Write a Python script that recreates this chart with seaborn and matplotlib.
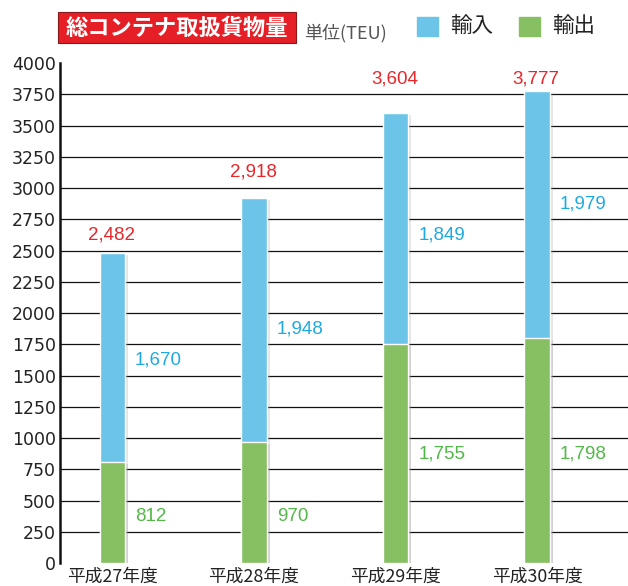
import matplotlib
matplotlib.use('Agg')
import matplotlib.pyplot as plt
import matplotlib.patheffects as pe
import seaborn as sns
import pandas as pd

# data
years = ['平成27年度', '平成28年度', '平成29年度', '平成30年度']
imports = [1670, 1948, 1849, 1979]
exports = [812, 970, 1755, 1798]
totals = [2482, 2918, 3604, 3777]
yticks = list(range(0, 4001, 250))

blue = '#6cc5e8'
green = '#86c062'
blue_txt = '#1ea9e1'
green_txt = '#52b848'
red_txt = '#e8262a'
num_font = 'Liberation Sans'
step = 250


def between_grid(v):
    # put a label halfway between two gridlines so no line runs through it
    return (v // step) * step + step / 2


sns.set_theme(style='white')
plt.rcParams['font.family'] = ['Noto Sans CJK JP', 'DejaVu Sans']

df = pd.DataFrame({'year': years, 'import': imports, 'export': exports, 'total': totals})

fig = plt.figure(figsize=(6.28, 5.86), dpi=100)
ax = fig.add_axes([0.0955, 0.039, 0.9045, 0.8535])

shadow = [pe.SimplePatchShadow(offset=(2.5, -1.5), shadow_rgbFace='#999999', alpha=0.25), pe.Normal()]

# stacked: full height in blue, export part in green drawn over it
sns.barplot(data=df, x='year', y='total', color=blue, width=0.177, saturation=1, ax=ax)
sns.barplot(data=df, x='year', y='export', color=green, width=0.177, saturation=1, ax=ax)
for p in ax.patches:
    p.set_path_effects(shadow)
    p.set_zorder(3)

for i in range(len(years)):
    y_tot = min(between_grid(totals[i] + step), 4000 - step / 2)
    ax.text(i - 0.173, y_tot, f'{totals[i]:,}', color=red_txt, fontsize=13.5,
            ha='left', va='center', family=num_font)
    ax.text(i + 0.16, between_grid(exports[i] + imports[i] / 2), f'{imports[i]:,}', color=blue_txt,
            fontsize=13.5, ha='left', va='center', family=num_font)
    ax.text(i + 0.16, between_grid(exports[i] / 2), f'{exports[i]:,}', color=green_txt,
            fontsize=13.5, ha='left', va='center', family=num_font)

ax.set_ylim(0, 4000)
ax.set_xlim(-0.371, 3.643)
ax.set_yticks(yticks)
ax.set_yticklabels([str(t) for t in yticks], fontsize=12.5, color='#222222', family='DejaVu Sans')
ax.set_xticks(range(len(years)))
ax.set_xticklabels(years, fontsize=12.8, color='#222222')
ax.tick_params(axis='x', length=0, pad=3)
ax.tick_params(axis='y', length=0, pad=3)
for t in yticks[1:-1]:
    ax.axhline(t, color='#111111', lw=0.9, zorder=1)
ax.set_xlabel('')
ax.set_ylabel('')
for s in ['top', 'right', 'bottom']:
    ax.spines[s].set_visible(False)
ax.spines['left'].set_color('#111111')
ax.spines['left'].set_linewidth(1.8)

# header: title box, unit, legend
fig.patches.append(plt.Rectangle((0.0924, 0.9266), 0.379, 0.0529, fc='#e61f26', ec='#8a1a1a',
                                 lw=0.8, transform=fig.transFigure))
fig.text(0.2818, 0.951, '総コンテナ取扱貨物量', color='white', fontsize=16, fontweight='bold',
         ha='center', va='center')
fig.text(0.484, 0.9437, '単位(TEU)', color='#555555', fontsize=13, ha='left', va='center')
fig.patches.append(plt.Rectangle((0.664, 0.9386), 0.0334, 0.0324, color=blue, transform=fig.transFigure))
fig.text(0.7166, 0.9556, '輸入', color='#222222', fontsize=15.5, ha='left', va='center')
fig.patches.append(plt.Rectangle((0.8264, 0.9386), 0.0334, 0.0324, color=green, transform=fig.transFigure))
fig.text(0.879, 0.9556, '輸出', color='#222222', fontsize=15.5, ha='left', va='center')

fig.savefig('out.png', dpi=100)
